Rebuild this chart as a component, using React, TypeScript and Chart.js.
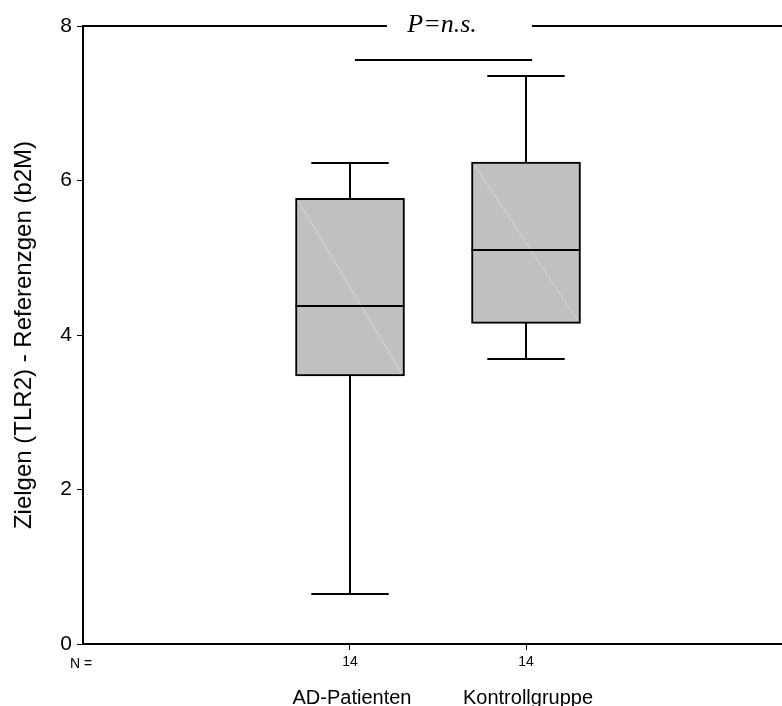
import React, { useEffect, useRef } from "react";
import { Chart, registerables } from "chart.js";

Chart.register(...registerables);

const categories = ["AD-Patienten", "Kontrollgruppe"];
const nValues = [14, 14];
const q1 = [3.47, 4.15];
const medians = [4.37, 5.1];
const q3 = [5.77, 6.24];
const whiskerLow = [0.65, 3.69];
const whiskerHigh = [6.23, 7.35];
const yTicks = [0, 2, 4, 6, 8];
const sigLabel = "P=n.s.";
const sigLevel = 7.56;
const yTitle = "Zielgen (TLR2) - Referenzgen (b2M)";

const SANS = '"Liberation Sans", Arial, sans-serif';

const boxPlugin = {
  id: "boxExtras",
  beforeDatasetsDraw(chart: any) {
    const { ctx } = chart;
    const y = chart.scales.y;
    const meta = chart.getDatasetMeta(0);
    ctx.save();
    ctx.strokeStyle = "#000";
    ctx.lineWidth = 2;
    meta.data.forEach((el: any, i: number) => {
      const p = el.getProps(["x", "width"], true);
      const cx = Math.round(p.x);
      const capHalf = p.width * 0.355;
      const yHi = Math.round(y.getPixelForValue(whiskerHigh[i]));
      const yLo = Math.round(y.getPixelForValue(whiskerLow[i]));
      ctx.beginPath();
      ctx.moveTo(cx, Math.round(y.getPixelForValue(q3[i])));
      ctx.lineTo(cx, yHi);
      ctx.moveTo(cx, Math.round(y.getPixelForValue(q1[i])));
      ctx.lineTo(cx, yLo);
      ctx.moveTo(cx - capHalf, yHi);
      ctx.lineTo(cx + capHalf, yHi);
      ctx.moveTo(cx - capHalf, yLo);
      ctx.lineTo(cx + capHalf, yLo);
      ctx.stroke();
    });
    ctx.restore();
  },
  afterDatasetsDraw(chart: any) {
    const { ctx } = chart;
    const y = chart.scales.y;
    const meta = chart.getDatasetMeta(0);
    ctx.save();
    meta.data.forEach((el: any, i: number) => {
      const p = el.getProps(["x", "y", "base", "width"], true);
      const left = p.x - p.width / 2;
      const right = p.x + p.width / 2;
      const top = Math.min(p.y, p.base);
      const bottom = Math.max(p.y, p.base);
      ctx.strokeStyle = "#dadada";
      ctx.lineWidth = 1;
      ctx.beginPath();
      ctx.moveTo(left + 3, top + 3);
      ctx.lineTo(right - 3, bottom - 3);
      ctx.stroke();
      const ym = Math.round(y.getPixelForValue(medians[i]));
      ctx.strokeStyle = "#000";
      ctx.lineWidth = 2;
      ctx.beginPath();
      ctx.moveTo(left, ym);
      ctx.lineTo(right, ym);
      ctx.stroke();
    });
    ctx.restore();
  },
  afterDraw(chart: any) {
    const { ctx, chartArea } = chart;
    const x = chart.scales.x;
    const y = chart.scales.y;
    ctx.save();
    ctx.strokeStyle = "#000";
    ctx.lineWidth = 2;
    const yTop = Math.round(y.getPixelForValue(8));
    ctx.beginPath();
    ctx.moveTo(chartArea.left, yTop);
    ctx.lineTo(x.getPixelForValue(1.21), yTop);
    ctx.moveTo(x.getPixelForValue(2.034), yTop);
    ctx.lineTo(chartArea.right, yTop);
    ctx.stroke();
    const ySig = Math.round(y.getPixelForValue(sigLevel));
    ctx.beginPath();
    ctx.moveTo(x.getPixelForValue(1.028), ySig);
    ctx.lineTo(x.getPixelForValue(2.034), ySig);
    ctx.stroke();
    ctx.fillStyle = "#000";
    ctx.font = 'italic 26px "Liberation Serif", "Times New Roman", serif';
    ctx.textAlign = "center";
    ctx.textBaseline = "alphabetic";
    ctx.fillText(sigLabel, x.getPixelForValue(1.523), yTop + 6);
    ctx.font = "14px " + SANS;
    ctx.textAlign = "left";
    ctx.fillText("N =", 70, 668);
    ctx.font = "20px " + SANS;
    ctx.textAlign = "center";
    categories.forEach((c, i) => {
      ctx.fillText(c, x.getPixelForValue(i + 1) + 2, 704);
    });
    ctx.restore();
  },
};

export default function App() {
  const ref = useRef<HTMLCanvasElement>(null);
  useEffect(() => {
    const chart = new Chart(ref.current as HTMLCanvasElement, {
      type: "bar",
      data: {
        datasets: [
          {
            data: categories.map((_, i) => ({ x: i + 1, y: [q1[i], q3[i]] })) as any,
            backgroundColor: "#c0c0c0",
            borderColor: "#000",
            borderWidth: 2,
            borderSkipped: false,
            barThickness: 109,
          },
        ],
      },
      options: {
        animation: false,
        responsive: false,
        layout: { padding: { top: 26, left: 0, right: 0, bottom: 0 } },
        plugins: { legend: { display: false }, tooltip: { enabled: false } },
        scales: {
          x: {
            type: "linear",
            offset: false,
            min: -0.517,
            max: 3.4545,
            afterBuildTicks: (s: any) => {
              s.ticks = categories.map((_, i) => ({ value: i + 1 }));
            },
            afterFit: (s: any) => {
              s.height = 62;
            },
            ticks: {
              callback: (_v: any, idx: number) => String(nValues[idx]),
              font: { family: SANS, size: 14 },
              color: "#000",
              padding: 4,
              maxRotation: 0,
              autoSkip: false,
            },
            grid: { offset: false, drawOnChartArea: false, drawTicks: true, tickLength: 6, color: "#000", lineWidth: 1 },
            border: { display: true, color: "#000", width: 2 },
          },
          y: {
            type: "linear",
            min: 0,
            max: 8,
            afterBuildTicks: (s: any) => {
              s.ticks = yTicks.map((v) => ({ value: v }));
            },
            afterFit: (s: any) => {
              s.width = 83;
            },
            ticks: {
              font: { family: SANS, size: 21 },
              color: "#000",
              padding: 5,
            },
            grid: { drawOnChartArea: false, drawTicks: true, tickLength: 6, color: "#000", lineWidth: 1 },
            border: { display: true, color: "#000", width: 2 },
            title: {
              display: true,
              text: yTitle,
              font: { family: SANS, size: 24 },
              color: "#000",
              padding: { top: 10, bottom: 0 },
            },
          },
        },
      },
      plugins: [boxPlugin],
    });
    return () => chart.destroy();
  }, []);
  return (
    <div style={{ position: "fixed", left: 0, top: 0, width: 782, height: 706, background: "#fff" }}>
      <canvas ref={ref} width={782} height={706} style={{ display: "block", width: 782, height: 706 }} />
    </div>
  );
}
